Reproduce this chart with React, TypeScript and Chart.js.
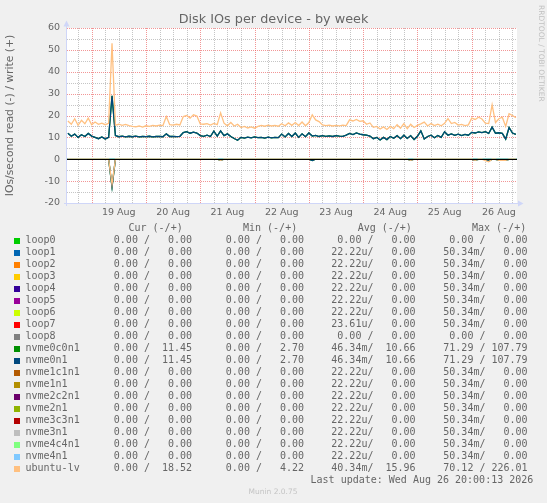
import React, { useEffect, useRef } from 'react';
import { Chart, registerables } from 'chart.js';

Chart.register(...registerables);

// ---- time axis (hours after 18 Aug 00:00) ----
const VIEW_START_H = 13.1;
const VIEW_END_H = 212; // 26 Aug 20:00
const SAMPLE_START_H = 13.5;
const SAMPLE_STEP_H = 1.5;
const MINOR_STEP_H = 6;
const MAJOR_STEP_H = 24;

const DAY_LABELS = ['19 Aug', '20 Aug', '21 Aug', '22 Aug', '23 Aug', '24 Aug', '25 Aug', '26 Aug'];
const Y_MIN = -20;
const Y_MAX = 60;
const Y_MINOR = 5;
const Y_MAJOR = 10;

// ---- series values (IOs/second) ----
const UBUNTU_LV_WRITE = [
  17.5, 16.0, 18.5, 15.5, 17.8, 16.2, 18.8, 15.8, 17.0, 16.0,
  16.5, 15.8, 16.4, 53.0, 15.6, 16.0, 15.5, 15.9, 15.4, 15.0,
  14.8, 15.2, 14.7, 15.3, 15.0, 15.5, 15.2, 15.6, 15.4, 19.5,
  15.8, 15.6, 16.0, 15.7, 19.5, 20.0, 18.8, 20.3, 19.8, 16.2,
  16.0, 16.3, 15.6, 16.4, 15.8, 21.2, 16.5, 15.3, 16.8, 15.2,
  16.0, 14.5, 15.0, 14.3, 14.8, 14.2, 15.0, 15.5, 15.1, 15.6,
  15.2, 15.5, 15.1, 16.2, 15.3, 16.6, 15.5, 16.8, 15.4, 17.0,
  15.3, 16.8, 20.3, 18.0, 17.2, 15.7, 15.4, 15.6, 15.2, 15.5,
  15.3, 15.6, 15.4, 18.0, 17.5, 18.2, 17.3, 17.6, 16.0, 16.6,
  14.6, 15.0, 13.8, 14.8, 13.6, 15.0, 14.0, 15.8, 14.2, 16.3,
  14.0, 16.0, 14.5, 15.5, 16.2, 17.0, 15.2, 16.3, 15.4, 16.0,
  15.3, 16.4, 18.6, 16.3, 16.8, 15.6, 15.9, 15.4, 15.7, 18.8,
  18.2, 19.2, 18.4, 16.5, 16.3, 24.9, 16.8, 18.5, 19.2, 15.0,
  20.8, 20.0, 19.0,
];

const UBUNTU_LV_READ = [
  0, 0, 0, 0, 0, 0, 0, 0, 0, 0,
  0, 0, 0, 11.5, 0, 0, 0, 0, 0, 0,
  0, 0, 0, 0, 0, 0, 0, 0, 0, 0,
  0, 0, 0, 0, 0, 0, 0, 0, 0, 0,
  0, 0, 0, 0, 0, 0.5, 0, 0, 0, 0,
  0, 0, 0, 0, 0, 0, 0, 0, 0, 0,
  0, 0, 0, 0, 0, 0, 0, 0, 0, 0,
  0, 0, 0, 0, 0, 0, 0, 0, 0, 0,
  0, 0, 0, 0, 0, 0, 0, 0, 0, 0,
  0, 0, 0, 0, 0, 0, 0, 0, 0, 0,
  0, 0.5, 0, 0, 0, 0, 0, 0, 0, 0,
  0, 0, 0, 0, 0, 0, 0, 0, 0, 0,
  0.5, 0, 0, 0.6, 1.2, 0, 0, 0.5, 0.5, 0.5,
  0, 0, 0,
];

// nvme0c0n1 and nvme0n1 report identical values
const NVME0_WRITE = [
  11.9, 10.5, 11.5, 10.0, 11.2, 10.4, 11.8, 10.6, 10.0, 9.4,
  10.2, 9.3, 10.0, 29.0, 10.8, 10.3, 10.6, 10.2, 10.5, 10.3,
  10.6, 10.2, 10.4, 10.3, 10.5, 10.2, 10.4, 10.5, 10.3, 11.6,
  10.4, 10.5, 10.3, 10.5, 12.2, 12.6, 11.9, 12.4, 12.0, 10.8,
  10.5, 11.0, 10.4, 12.8, 10.6, 13.0, 10.8, 11.6, 10.4, 9.5,
  8.7, 10.0, 9.7, 10.1, 9.8, 10.2, 9.9, 10.0, 9.7, 10.1,
  9.8, 10.0, 9.9, 11.5, 10.2, 11.8, 10.4, 12.0, 10.0, 11.6,
  10.3, 12.0, 10.6, 10.9, 10.4, 10.8, 10.5, 10.7, 10.4, 10.8,
  10.6, 10.5, 11.0, 11.8, 11.3, 12.0, 11.5, 11.2, 11.0, 10.6,
  9.4, 10.0, 8.8, 10.0, 9.0, 10.4, 9.6, 10.8, 9.4, 11.0,
  9.5, 10.8, 9.0, 10.5, 13.0, 9.3, 10.4, 11.0, 9.8, 10.9,
  10.0, 12.6, 11.0, 11.6, 10.9, 11.5, 10.8, 11.4, 11.0, 12.3,
  12.0, 12.5, 12.2, 12.6, 11.8, 14.7, 11.9, 12.1, 11.8, 9.2,
  14.5, 12.0, 11.4,
];

const NVME0_READ = [
  0, 0, 0, 0, 0, 0, 0, 0, 0, 0,
  0, 0, 0, 12.6, 0, 0, 0, 0, 0, 0,
  0, 0, 0, 0, 0, 0, 0, 0, 0, 0,
  0, 0, 0, 0, 0, 0, 0, 0, 0, 0,
  0, 0, 0, 0, 0, 0.5, 0, 0, 0, 0,
  0, 0, 0, 0, 0, 0, 0, 0, 0, 0,
  0, 0, 0, 0, 0, 0, 0, 0, 0, 0,
  0, 0, 0.6, 0, 0, 0, 0, 0, 0, 0,
  0, 0, 0, 0, 0, 0, 0, 0, 0, 0,
  0, 0, 0, 0, 0, 0, 0, 0, 0, 0,
  0, 0.5, 0, 0, 0, 0, 0, 0, 0, 0,
  0, 0, 0, 0, 0, 0, 0, 0, 0, 0,
  0.4, 0, 0, 0, 0.9, 0, 0, 0.4, 0.5, 0.4,
  0, 0, 0,
];

// idle devices: flat at zero at window start and end
const IDLE_IOS = [0, 0];

// ---- legend table ----
const DEVICES = [
  'loop0', 'loop1', 'loop2', 'loop3', 'loop4', 'loop5', 'loop6', 'loop7', 'loop8',
  'nvme0c0n1', 'nvme0n1', 'nvme1c1n1', 'nvme1n1', 'nvme2c2n1', 'nvme2n1',
  'nvme3c3n1', 'nvme3n1', 'nvme4c4n1', 'nvme4n1', 'ubuntu-lv',
];
const DEVICE_COLORS = [
  '#00CC00', '#0066B3', '#FF8000', '#FFCC00', '#330099', '#990099', '#CCFF00', '#FF0000', '#808080',
  '#008F00', '#00487D', '#B35A00', '#B38F00', '#6B006B', '#8FB300',
  '#B30000', '#BEBEBE', '#80FF80', '#80C9FF', '#FFC080',
];
const CUR_READ = ['0.00', '0.00', '0.00', '0.00', '0.00', '0.00', '0.00', '0.00', '0.00', '0.00', '0.00', '0.00', '0.00', '0.00', '0.00', '0.00', '0.00', '0.00', '0.00', '0.00'];
const CUR_WRITE = ['0.00', '0.00', '0.00', '0.00', '0.00', '0.00', '0.00', '0.00', '0.00', '11.45', '11.45', '0.00', '0.00', '0.00', '0.00', '0.00', '0.00', '0.00', '0.00', '18.52'];
const MIN_READ = ['0.00', '0.00', '0.00', '0.00', '0.00', '0.00', '0.00', '0.00', '0.00', '0.00', '0.00', '0.00', '0.00', '0.00', '0.00', '0.00', '0.00', '0.00', '0.00', '0.00'];
const MIN_WRITE = ['0.00', '0.00', '0.00', '0.00', '0.00', '0.00', '0.00', '0.00', '0.00', '2.70', '2.70', '0.00', '0.00', '0.00', '0.00', '0.00', '0.00', '0.00', '0.00', '4.22'];
const AVG_READ = ['0.00', '22.22u', '22.22u', '22.22u', '22.22u', '22.22u', '22.22u', '23.61u', '0.00', '46.34m', '46.34m', '22.22u', '22.22u', '22.22u', '22.22u', '22.22u', '22.22u', '22.22u', '22.22u', '40.34m'];
const AVG_WRITE = ['0.00', '0.00', '0.00', '0.00', '0.00', '0.00', '0.00', '0.00', '0.00', '10.66', '10.66', '0.00', '0.00', '0.00', '0.00', '0.00', '0.00', '0.00', '0.00', '15.96'];
const MAX_READ = ['0.00', '50.34m', '50.34m', '50.34m', '50.34m', '50.34m', '50.34m', '50.34m', '0.00', '71.29', '71.29', '50.34m', '50.34m', '50.34m', '50.34m', '50.34m', '50.34m', '50.34m', '50.34m', '70.12'];
const MAX_WRITE = ['0.00', '0.00', '0.00', '0.00', '0.00', '0.00', '0.00', '0.00', '0.00', '107.79', '107.79', '0.00', '0.00', '0.00', '0.00', '0.00', '0.00', '0.00', '0.00', '226.01'];
const COLUMN_HEADERS = ['Cur (-/+)', 'Min (-/+)', 'Avg (-/+)', 'Max (-/+)'];

const TITLE = 'Disk IOs per device - by week';
const Y_TITLE = 'IOs/second read (-) / write (+)';
const LAST_UPDATE = 'Last update: Wed Aug 26 20:00:13 2026';
const VERSION = 'Munin 2.0.75';
const WATERMARK = 'RRDTOOL / TOBI OETIKER';

const FONT_COLOR = '#666666';
const AXIS_COLOR = '#CFD6F8';
const MAJOR_GRID = 'rgba(233,80,80,0.6)';
const MINOR_GRID = 'rgba(140,140,140,0.5)';

const fmtCell = (r: string, w: string) =>
  (/[a-zA-Z]$/.test(r) ? r : r + ' ') + '/' + w.padStart(7, ' ');

const decorPlugin = {
  id: 'muninDecor',
  beforeDraw(chart: any) {
    const { ctx, chartArea: a } = chart;
    ctx.save();
    ctx.fillStyle = '#F0F0F0';
    ctx.fillRect(0, 0, chart.width, chart.height);
    ctx.fillStyle = '#FFFFFF';
    ctx.fillRect(a.left, a.top, a.right - a.left, a.bottom - a.top);
    ctx.restore();
  },
  beforeDatasetsDraw(chart: any) {
    const { ctx, chartArea: a, scales } = chart;
    const xs = scales.x;
    const ys = scales.y;
    ctx.save();
    ctx.lineWidth = 1;
    ctx.setLineDash([1, 1]);
    const drawV = (major: boolean) => {
      for (let h = Math.ceil(VIEW_START_H / MINOR_STEP_H) * MINOR_STEP_H; h <= VIEW_END_H; h += MINOR_STEP_H) {
        if ((h % MAJOR_STEP_H === 0) !== major) continue;
        const px = Math.round(xs.getPixelForValue(h)) + 0.5;
        ctx.strokeStyle = major ? MAJOR_GRID : MINOR_GRID;
        ctx.beginPath();
        ctx.moveTo(px, a.top);
        ctx.lineTo(px, a.bottom);
        ctx.stroke();
      }
    };
    const drawH = (major: boolean) => {
      for (let v = Y_MIN; v <= Y_MAX; v += Y_MINOR) {
        if ((v % Y_MAJOR === 0) !== major) continue;
        const py = Math.round(ys.getPixelForValue(v)) + 0.5;
        ctx.strokeStyle = major ? MAJOR_GRID : MINOR_GRID;
        ctx.beginPath();
        ctx.moveTo(a.left, py);
        ctx.lineTo(a.right, py);
        ctx.stroke();
      }
    };
    drawV(false);
    drawH(false);
    drawV(true);
    drawH(true);
    ctx.restore();
  },
  afterDatasetsDraw(chart: any) {
    const { ctx, chartArea: a } = chart;
    const y0 = Math.round(chart.scales.y.getPixelForValue(0)) + 0.5;
    ctx.save();
    ctx.lineWidth = 1;
    ctx.strokeStyle = '#000000';
    ctx.beginPath();
    ctx.moveTo(a.left, y0);
    ctx.lineTo(a.right, y0);
    ctx.stroke();
    // axes
    ctx.strokeStyle = AXIS_COLOR;
    ctx.fillStyle = AXIS_COLOR;
    const yb = a.bottom + 0.5;
    const xl = a.left - 0.5;
    ctx.beginPath();
    ctx.moveTo(a.left - 3, yb);
    ctx.lineTo(a.right + 1, yb);
    ctx.moveTo(xl, a.bottom + 3);
    ctx.lineTo(xl, a.top - 2);
    ctx.stroke();
    ctx.beginPath();
    ctx.moveTo(a.right + 1, yb - 3);
    ctx.lineTo(a.right + 6.5, yb);
    ctx.lineTo(a.right + 1, yb + 3);
    ctx.closePath();
    ctx.fill();
    ctx.beginPath();
    ctx.moveTo(xl - 3, a.top - 1.5);
    ctx.lineTo(xl, a.top - 7.5);
    ctx.lineTo(xl + 3, a.top - 1.5);
    ctx.closePath();
    ctx.fill();
    ctx.restore();
  },
  afterDraw(chart: any) {
    const { ctx, chartArea: a } = chart;
    ctx.save();
    ctx.fillStyle = FONT_COLOR;
    // title
    ctx.font = '12.8px "DejaVu Sans"';
    ctx.textAlign = 'center';
    ctx.textBaseline = 'alphabetic';
    ctx.fillText(TITLE, chart.width / 2, 23);
    // y title
    ctx.save();
    ctx.translate(10.5, (a.top + a.bottom) / 2);
    ctx.rotate(-Math.PI / 2);
    ctx.font = '10.8px "DejaVu Sans"';
    ctx.textBaseline = 'middle';
    ctx.fillText(Y_TITLE, 0, 0);
    ctx.restore();
    // watermark
    ctx.save();
    ctx.translate(541, 5);
    ctx.rotate(Math.PI / 2);
    ctx.font = '7.5px "DejaVu Sans"';
    ctx.textAlign = 'left';
    ctx.textBaseline = 'middle';
    ctx.fillStyle = 'rgba(102,102,102,0.35)';
    ctx.fillText(WATERMARK, 0, 0);
    ctx.restore();
    // legend table
    ctx.font = '10px "DejaVu Sans Mono"';
    ctx.textBaseline = 'alphabetic';
    ctx.textAlign = 'left';
    const headerX = [128.5, 243, 357.7, 472];
    COLUMN_HEADERS.forEach((h, k) => ctx.fillText(h, headerX[k], 231));
    const colRight = [192.1, 304.1, 415.6, 527.6];
    const cols = [
      [CUR_READ, CUR_WRITE],
      [MIN_READ, MIN_WRITE],
      [AVG_READ, AVG_WRITE],
      [MAX_READ, MAX_WRITE],
    ];
    DEVICES.forEach((name, i) => {
      const b = 243 + 12 * i;
      ctx.fillStyle = DEVICE_COLORS[i];
      ctx.fillRect(14, b - 5, 6, 6);
      ctx.fillStyle = FONT_COLOR;
      ctx.textAlign = 'left';
      ctx.fillText(name, 25.5, b);
      ctx.textAlign = 'right';
      cols.forEach(([r, w], k) => ctx.fillText(fmtCell(r[i], w[i]), colRight[k], b));
    });
    ctx.textAlign = 'right';
    ctx.fillText(LAST_UPDATE, 533.3, 483);
    ctx.font = '7.5px "DejaVu Sans"';
    ctx.textAlign = 'center';
    ctx.textBaseline = 'middle';
    ctx.fillStyle = '#C4C4C4';
    ctx.fillText(VERSION, 273, 492);
    ctx.restore();
  },
};

export default function App() {
  const ref = useRef<HTMLCanvasElement>(null);
  useEffect(() => {
    const canvas = ref.current;
    if (!canvas) return;
    const times = UBUNTU_LV_WRITE.map((_, i) => SAMPLE_START_H + i * SAMPLE_STEP_H);
    const pts = (vals: number[], sign: number) => vals.map((v, i) => ({ x: times[i], y: sign * v }));
    const idlePts = IDLE_IOS.map((v, i) => ({ x: i === 0 ? VIEW_START_H : VIEW_END_H, y: v }));
    const DEVICE_IO: Record<string, { read: number[]; write: number[] }> = {
      nvme0c0n1: { read: NVME0_READ, write: NVME0_WRITE },
      nvme0n1: { read: NVME0_READ, write: NVME0_WRITE },
      'ubuntu-lv': { read: UBUNTU_LV_READ, write: UBUNTU_LV_WRITE },
    };
    const base = { borderWidth: 1.3, pointRadius: 0, fill: false, tension: 0 };
    const datasets: any[] = [];
    DEVICES.forEach((name, k) => {
      const io = DEVICE_IO[name];
      const color = DEVICE_COLORS[k];
      const order = DEVICES.length - k;
      if (io) {
        datasets.push({ ...base, label: name + ' read', data: pts(io.read, -1), borderColor: color, order });
        datasets.push({ ...base, label: name + ' write', data: pts(io.write, 1), borderColor: color, order });
      } else {
        datasets.push({ ...base, label: name, data: idlePts, borderColor: color, order });
      }
    });
    const tickFont = { family: '"DejaVu Sans"', size: 9.5 };
    const chart = new Chart(canvas, {
      type: 'line',
      data: { datasets },
      plugins: [decorPlugin],
      options: {
        responsive: false,
        animation: false,
        devicePixelRatio: 1,
        events: [],
        layout: { padding: { left: 0, top: 28, right: 30, bottom: 280 } },
        plugins: { legend: { display: false }, tooltip: { enabled: false }, title: { display: false } },
        scales: {
          x: {
            type: 'linear',
            min: VIEW_START_H,
            max: VIEW_END_H,
            afterFit: (s: any) => { s.height = 20; },
            afterBuildTicks: (s: any) => {
              const t: any[] = [];
              for (let h = Math.ceil(VIEW_START_H / MAJOR_STEP_H) * MAJOR_STEP_H - 12; h <= VIEW_END_H; h += MAJOR_STEP_H) {
                if (h >= VIEW_START_H) t.push({ value: h });
              }
              s.ticks = t;
            },
            grid: { display: false, drawTicks: false },
            border: { display: false },
            ticks: {
              autoSkip: false,
              maxRotation: 0,
              padding: 4,
              color: FONT_COLOR,
              font: tickFont,
              callback: (v: any) => {
                const h = Number(v);
                return DAY_LABELS[Math.floor(h / MAJOR_STEP_H) - 1] ?? '';
              },
            },
          },
          y: {
            min: Y_MIN,
            max: Y_MAX,
            afterFit: (s: any) => { s.width = 67; },
            grid: { display: false, drawTicks: false },
            border: { display: false },
            ticks: {
              stepSize: Y_MAJOR,
              autoSkip: false,
              padding: 7,
              color: FONT_COLOR,
              font: tickFont,
              callback: (v: any) => String(v),
            },
          },
        },
      } as any,
    });
    return () => chart.destroy();
  }, []);
  return (
    <div style={{ position: 'fixed', left: 0, top: 0, width: 547, height: 503, background: '#F0F0F0' }}>
      <canvas ref={ref} width={547} height={503} style={{ display: 'block', width: 547, height: 503 }} />
    </div>
  );
}
